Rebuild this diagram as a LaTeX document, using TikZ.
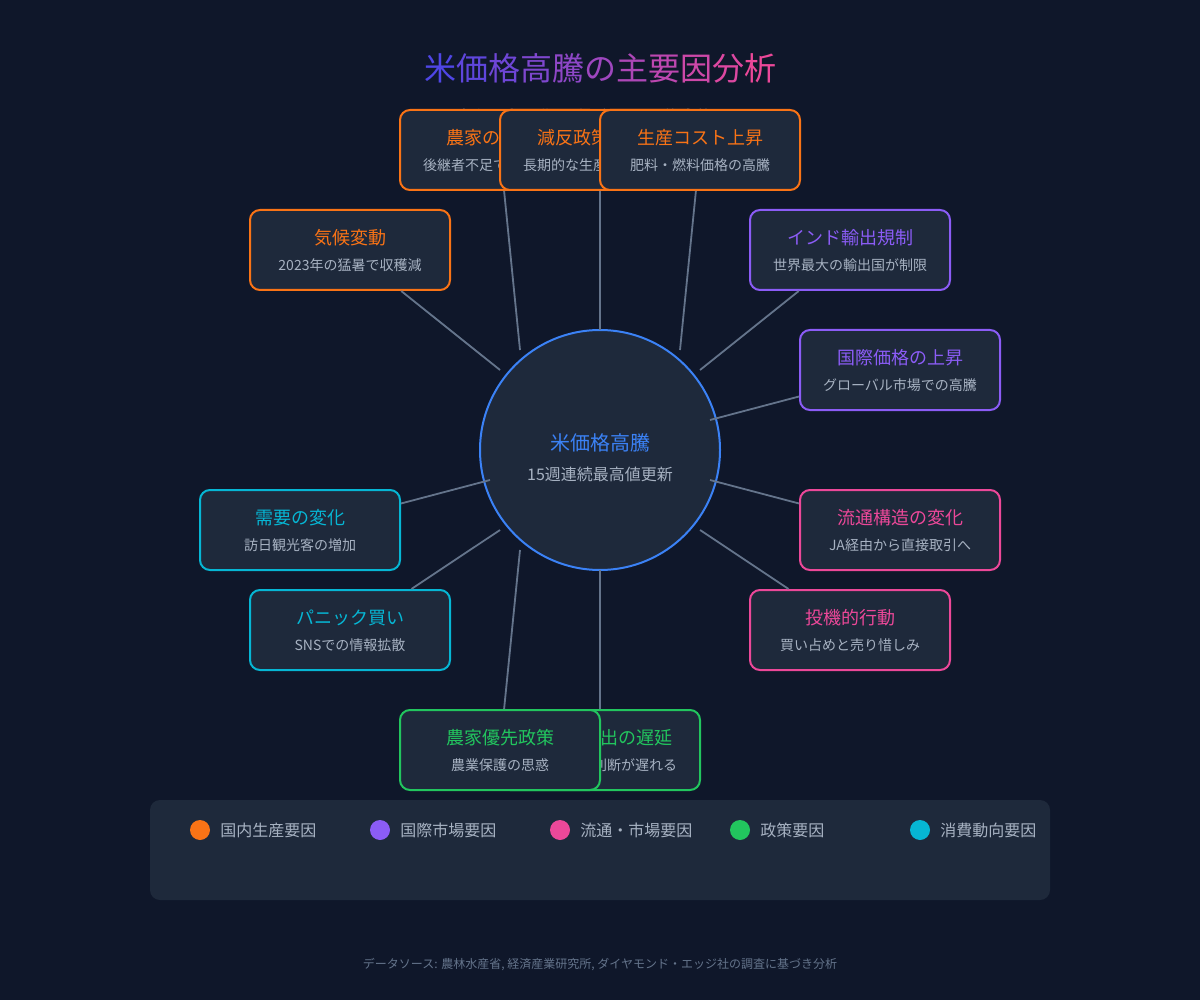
\documentclass[tikz,border=0pt]{standalone}
\usepackage{fontspec}
\setmainfont{Noto Sans CJK JP}
\usetikzlibrary{positioning}

\definecolor{bgdark}{HTML}{0F172A}
\definecolor{panel}{HTML}{1E293B}
\definecolor{domestic}{HTML}{F97316}
\definecolor{global}{HTML}{8B5CF6}
\definecolor{market}{HTML}{EC4899}
\definecolor{policy}{HTML}{22C55E}
\definecolor{consumer}{HTML}{06B6D4}
\definecolor{coreblue}{HTML}{3B82F6}
\definecolor{linkgray}{HTML}{64748B}
\definecolor{subgray}{HTML}{A7B2C2}
\definecolor{titleA}{HTML}{4F46E5}
\definecolor{titleB}{HTML}{EC4899}

\tikzset{
  factor/.style={draw=#1, fill=panel, line width=2pt, rounded corners=10pt,
    minimum width=200pt, minimum height=80pt, inner sep=0pt},
  headtext/.style={font=\fontsize{18}{22}\selectfont, inner sep=0pt},
  subtext/.style={text=subgray, font=\fontsize{14}{17}\selectfont, inner sep=0pt},
  link/.style={draw=linkgray, line width=1.8pt},
  legendtext/.style={text=subgray, font=\fontsize{16}{19}\selectfont, inner sep=0pt},
}

% box with a coloured heading and a grey note
\newcommand{\factorbox}[6]{%
  \node[factor=#4] (#1) at (#2,#3) {};
  \node[headtext, text=#4] (#1-head) at ([yshift=12pt]#1.center) {#5};
  \node[subtext] (#1-note) at ([yshift=-15pt]#1.center) {#6};
}

\begin{document}
\begin{tikzpicture}[x=1pt, y=-1pt]
\fill[bgdark] (0,0) rectangle (1200,1000);
\useasboundingbox (0,0) rectangle (1200,1000);

% heading
\node[text=linkgray, font=\fontsize{16}{20}\selectfont, inner sep=0pt] (subtitle) at (600,116) {令和の米騒動を引き起こした複合的要因};
\node[font=\fontsize{32}{38}\selectfont, inner sep=0pt] (title) at (600,68)
  {\foreach \ch [count=\i, evaluate=\i as \pct using int(100-(\i-1)*10)] in {米,価,格,高,騰,の,主,要,因,分,析}{\textcolor{titleA!\pct!titleB}{\ch}}};

% centre
\node[circle, draw=coreblue, fill=panel, line width=2pt, minimum size=240pt, inner sep=0pt] (core) at (600,450) {};
\node[headtext, text=coreblue, font=\fontsize{20}{24}\selectfont] (core-head) at ([yshift=7pt]core.center) {米価格高騰};
\node[subtext, font=\fontsize{16}{19}\selectfont] (core-note) at ([yshift=-24pt]core.center) {15週連続最高値更新};

% factors
\factorbox{aging}{500}{150}{domestic}{農家の高齢化}{後継者不足で生産力低下}
\factorbox{gentan}{600}{150}{domestic}{減反政策の影響}{長期的な生産調整の結果}
\factorbox{cost}{700}{150}{domestic}{生産コスト上昇}{肥料・燃料価格の高騰}
\factorbox{climate}{350}{250}{domestic}{気候変動}{2023年の猛暑で収穫減}
\factorbox{india}{850}{250}{global}{インド輸出規制}{世界最大の輸出国が制限}
\factorbox{intl}{900}{370}{global}{国際価格の上昇}{グローバル市場での高騰}
\factorbox{distrib}{900}{530}{market}{流通構造の変化}{JA経由から直接取引へ}
\factorbox{specul}{850}{630}{market}{投機的行動}{買い占めと売り惜しみ}
\factorbox{demand}{300}{530}{consumer}{需要の変化}{訪日観光客の増加}
\factorbox{panic}{350}{630}{consumer}{パニック買い}{SNSでの情報拡散}
\factorbox{reserve}{600}{750}{policy}{備蓄米放出の遅延}{政府の放出判断が遅れる}
\factorbox{farmpol}{500}{750}{policy}{農家優先政策}{農業保護の思惑}

% spokes
\foreach \n/\dx/\dy in {climate/-100/-80, aging/-80/-100, gentan/0/-120, cost/80/-100,
    india/100/-80, intl/110/-30, distrib/110/30, specul/100/80,
    demand/-110/30, panic/-100/80, farmpol/-80/100, reserve/0/120} {
  \coordinate (from-\n) at ([shift={(\dx,\dy)}]core.center);
  \draw[link] (from-\n) -- (\n);
}

% legend
\node[fill=panel, rounded corners=10pt, minimum width=900pt, minimum height=100pt, inner sep=0pt] (legend) at (600,850) {};
\foreach \x/\c/\t in {200/domestic/国内生産要因, 380/global/国際市場要因, 560/market/流通・市場要因,
    740/policy/政策要因, 920/consumer/消費動向要因} {
  \node[circle, fill=\c, minimum size=20pt, inner sep=0pt] (dot-\c) at (\x,830) {};
  \node[legendtext, right=10pt of dot-\c] (key-\c) {\t};
}

\node[text=linkgray, font=\fontsize{12}{14}\selectfont, inner sep=0pt] (source) at (600,965)
  {データソース: 農林水産省, 経済産業研究所, ダイヤモンド・エッジ社の調査に基づき分析};
\end{tikzpicture}
\end{document}
